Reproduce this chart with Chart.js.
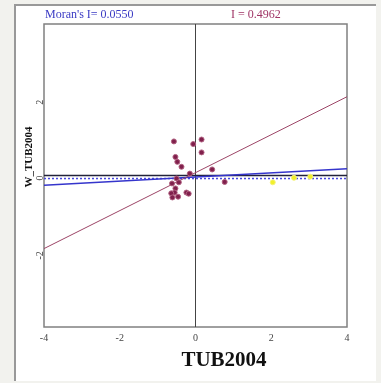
<!DOCTYPE html>
<html lang="en">
<head>
  <meta charset="UTF-8" />
  <title>Moran scatter | TUB2004</title>
  <script src="https://cdn.jsdelivr.net/npm/chart.js"></script>
  <style>
    body {
      margin: 0;
      background-color: #f2f2ee;
      width: 381px;
      height: 383px;
      overflow: hidden;
      position: relative;
    }
    .frame {
      position: absolute;
      left: 14px;
      top: 4px;
      width: 360px;
      height: 375px;
      background-color: #fff;
      border-left: 2px solid #999;
      border-top: 2px solid #999;
    }
    #moran {
      position: absolute;
      left: 0;
      top: 0;
    }
  </style>
</head>
<body>
  <div class="frame"></div>
  <canvas id="moran" width="381" height="383"></canvas>

  <script>
    // observations (standardised TUB2004 vs spatial lag)
    const tubX = [-0.57, -0.06, 0.16, 0.16, -0.53, -0.48, -0.37, 0.44, -0.15, -0.50,
                  -0.44, -0.62, -0.53, -0.55, -0.64, -0.61, -0.46, -0.24, -0.18, 0.77];
    const lagY = [0.90, 0.83, 0.95, 0.61, 0.49, 0.36, 0.23, 0.16, 0.05, -0.08,
                  -0.18, -0.21, -0.34, -0.45, -0.47, -0.58, -0.56, -0.45, -0.48, -0.17];
    // selected (yellow) observations
    const selX = [2.04, 2.60, 3.03];
    const selY = [-0.18, -0.06, -0.03];

    // regression line end points
    const redLineX = [-4, 4];
    const redLineY = [-1.93, 2.08];
    const blueLineX = [-4, 4];
    const blueLineY = [-0.26, 0.18];
    const dottedY = -0.08;

    const xTicks = [-4, -2, 0, 2, 4];
    const yTicks = [-2, 0, 2];

    const labelLeft = "Moran's I= 0.0550";
    const labelRight = 'I = 0.4962';
    const xTitle = 'TUB2004';
    const yTitle = 'W_TUB2004';

    const pts = (xs, ys) => xs.map((x, i) => ({ x: x, y: ys[i] }));

    const textPlugin = {
      id: 'texts',
      beforeDatasetsDraw(chart) {
        const { ctx, chartArea: a } = chart;
        ctx.save();
        ctx.strokeStyle = '#808080';
        ctx.lineWidth = 1.5;
        ctx.strokeRect(a.left, a.top, a.right - a.left, a.bottom - a.top);
        ctx.restore();
      },
      afterDraw(chart) {
        const ctx = chart.ctx;
        ctx.save();
        ctx.font = '12px "Liberation Serif", serif';
        ctx.textBaseline = 'alphabetic';
        ctx.fillStyle = '#3b3bc4';
        ctx.textAlign = 'left';
        ctx.fillText(labelLeft, 45, 18);
        ctx.fillStyle = '#a03566';
        ctx.fillText(labelRight, 231, 18);

        ctx.fillStyle = '#111';
        ctx.font = 'bold 21px "Liberation Serif", serif';
        ctx.textAlign = 'center';
        ctx.fillText(xTitle, 224, 366);

        ctx.translate(32, 157);
        ctx.rotate(-Math.PI / 2);
        ctx.font = 'bold 11px "Liberation Serif", serif';
        ctx.fillText(yTitle, 0, 0);
        ctx.restore();
      }
    };

    new Chart(document.getElementById('moran'), {
      type: 'scatter',
      data: {
        datasets: [
          {
            data: pts(tubX, lagY),
            backgroundColor: '#80204c',
            borderColor: '#b06080',
            borderWidth: 1,
            pointRadius: 2.5
          },
          {
            data: pts(selX, selY),
            backgroundColor: '#f2f02a',
            borderColor: '#f4f27a',
            borderWidth: 1,
            pointRadius: 2.5
          },
          {
            type: 'line',
            data: pts(redLineX, redLineY),
            borderColor: '#9c4466',
            borderWidth: 1,
            pointRadius: 0
          },
          {
            type: 'line',
            data: pts(blueLineX, blueLineY),
            borderColor: '#3535cc',
            borderWidth: 1.5,
            pointRadius: 0
          },
          {
            type: 'line',
            data: pts([-4, 4], [dottedY, dottedY]),
            borderColor: '#4848e0',
            borderWidth: 1.5,
            borderDash: [2, 2],
            pointRadius: 0
          },
          {
            type: 'line',
            data: pts([-4, 4], [0, 0]),
            borderColor: '#22223a',
            borderWidth: 1.5,
            pointRadius: 0
          },
          {
            type: 'line',
            data: pts([0, 0], [-4, 4]),
            borderColor: '#444',
            borderWidth: 1,
            pointRadius: 0
          }
        ]
      },
      options: {
        responsive: false,
        animation: false,
        devicePixelRatio: 1,
        layout: { padding: { left: 0, top: 24, right: 34, bottom: 0 } },
        plugins: {
          legend: { display: false },
          tooltip: { enabled: false }
        },
        scales: {
          x: {
            type: 'linear',
            min: -4,
            max: 4,
            afterFit: s => { s.height = 56; },
            afterBuildTicks: s => { s.ticks = xTicks.map(v => ({ value: v })); },
            grid: { display: false, drawTicks: true, tickLength: 3 },
            border: { display: false },
            ticks: {
              color: '#444',
              padding: 2,
              font: { family: '"Liberation Serif", serif', size: 10 }
            }
          },
          y: {
            type: 'linear',
            min: -4,
            max: 4,
            afterFit: s => { s.width = 44; },
            afterBuildTicks: s => { s.ticks = yTicks.map(v => ({ value: v })); },
            grid: { display: false, tickLength: 3 },
            border: { display: false },
            ticks: {
              color: '#444',
              minRotation: 90,
              maxRotation: 90,
              padding: 1,
              font: { family: '"Liberation Serif", serif', size: 10 }
            }
          }
        }
      },
      plugins: [textPlugin]
    });
  </script>
</body>
</html>
